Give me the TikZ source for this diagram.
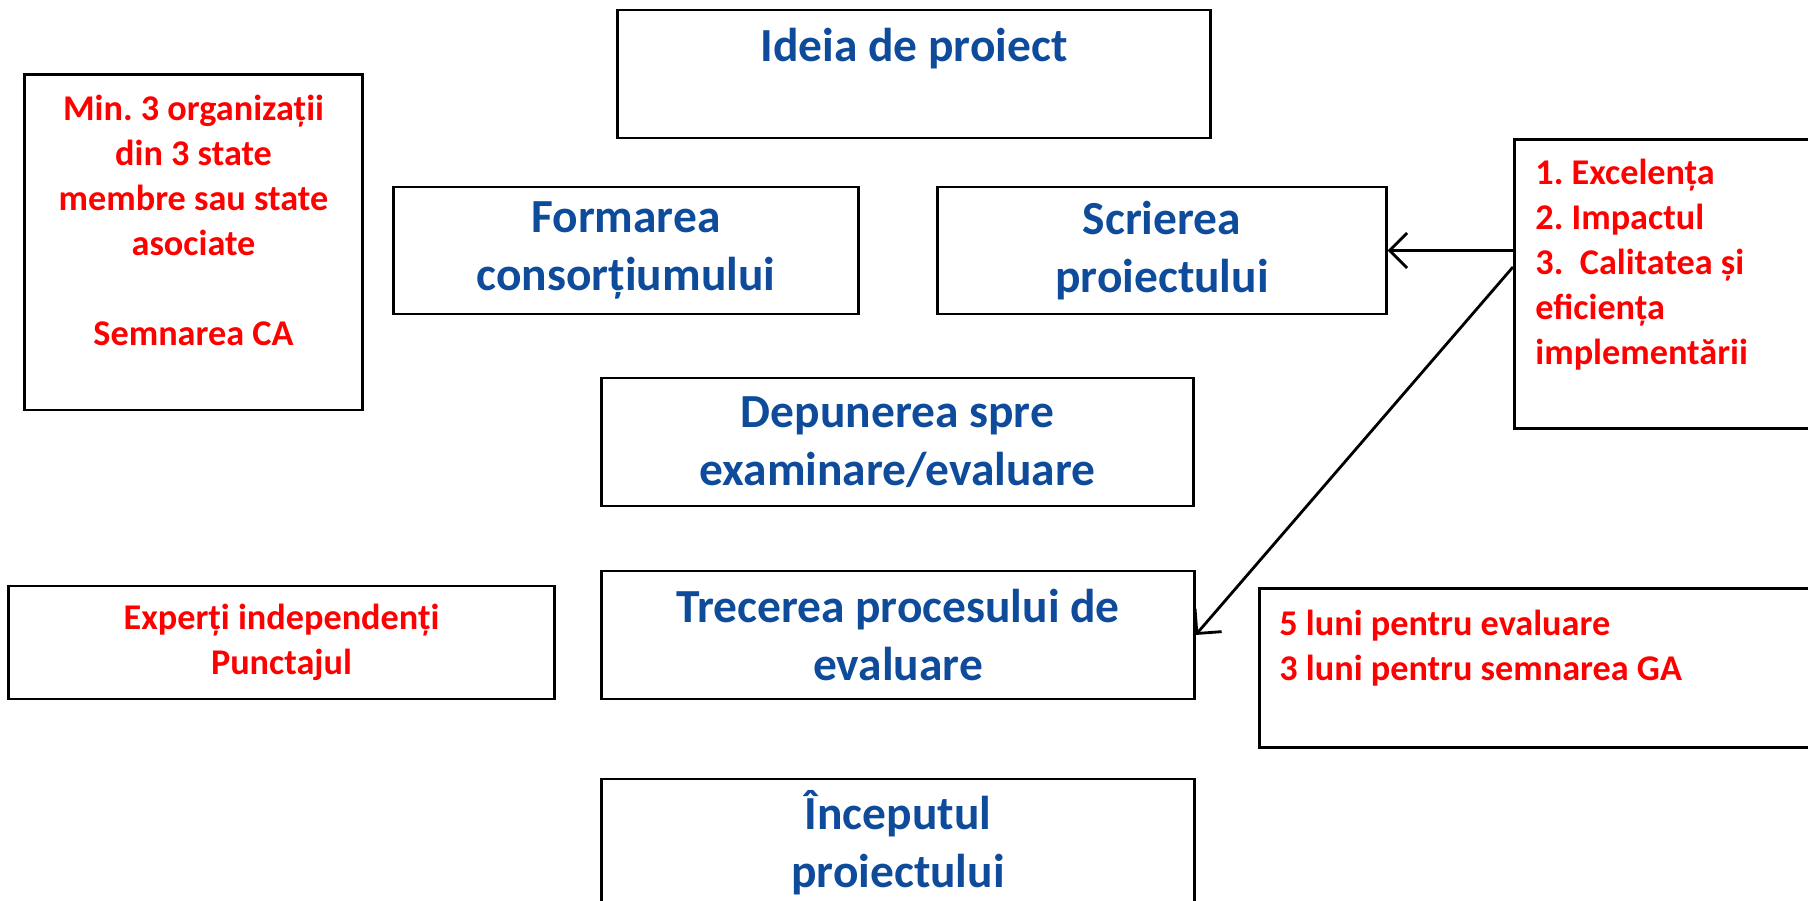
\documentclass[tikz,border=0pt]{standalone}
\usepackage{fontspec}
\setmainfont{Carlito}
\usepackage{xcolor}
\usetikzlibrary{arrows.meta}
\definecolor{stepblue}{RGB}{15,75,155}
\definecolor{notered}{RGB}{255,0,0}
\frenchspacing
\tikzset{
    box/.style={draw, black, line width=0.8pt, inner sep=0pt, align=center},
    bluetext/.style={text=stepblue, font=\bfseries\fontsize{13.5}{16.5}\selectfont},
    redtext/.style={text=notered, font=\bfseries\fontsize{10.3}{12.8}\selectfont},
    arr/.style={black, line width=0.8pt, -{Straight Barb[length=5pt,width=10pt]}}
}
\begin{document}
\begin{tikzpicture}[x=0.01cm,y=-0.01cm]
            \useasboundingbox (0,0) rectangle (1808,901);
            % main steps
            \node[box, bluetext, minimum width=5.92cm, minimum height=1.28cm] (ideia) at (914,74) {Ideia de proiect\\ \mbox{}};
            \node[box, bluetext, minimum width=4.64cm, minimum height=1.27cm] (form) at (626,250.5) {Formarea\\ consorțiumului};
            \node[box, bluetext, minimum width=4.48cm, minimum height=1.27cm] (scr) at (1162,250.5) {Scrierea\\ proiectului};
            \node[box, bluetext, minimum width=5.91cm, minimum height=1.28cm] (dep) at (897.5,442) {Depunerea spre\\ examinare/evaluare};
            \node[box, bluetext, minimum width=5.92cm, minimum height=1.28cm] (trec) at (898,635) {Trecerea procesului de\\ evaluare};
            \node[box, bluetext, minimum width=5.92cm, minimum height=1.28cm] (inc) at (898,843) {Începutul\\ proiectului};
            % notes
            \node[box, redtext, minimum width=3.37cm, minimum height=3.35cm] (consort) at (193.5,242.5) {Min. 3 organizații\\ din 3 state\\ membre sau state\\ asociate\\ \mbox{}\\ Semnarea CA\\ \mbox{}};
            \node[box, redtext, align=flush left, anchor=north west, inner xsep=0.21cm, text width=2.78cm, minimum height=2.89cm] (crit) at (1513,138) {1. Excelența\\ 2. Impactul\\ 3.\ \ Calitatea și\\ eficiența\\ implementării\\ \mbox{}};
            \node[box, redtext, minimum width=5.45cm, minimum height=1.13cm] (exp) at (281.5,642.5) {Experți independenți\\ Punctajul};
            \node[box, redtext, align=flush left, anchor=north west, inner xsep=0.20cm, text width=5.6cm, minimum height=1.59cm] (luni) at (1258,587) {5 luni pentru evaluare\\ 3 luni pentru semnarea GA\\ \mbox{}};
            % arrows
            \coordinate (critout) at (1513,267);
            \draw[arr] (crit.west |- scr.east) -- (scr.east);
            \draw[arr] (critout) -- (trec.east);
\end{tikzpicture}
\end{document}
